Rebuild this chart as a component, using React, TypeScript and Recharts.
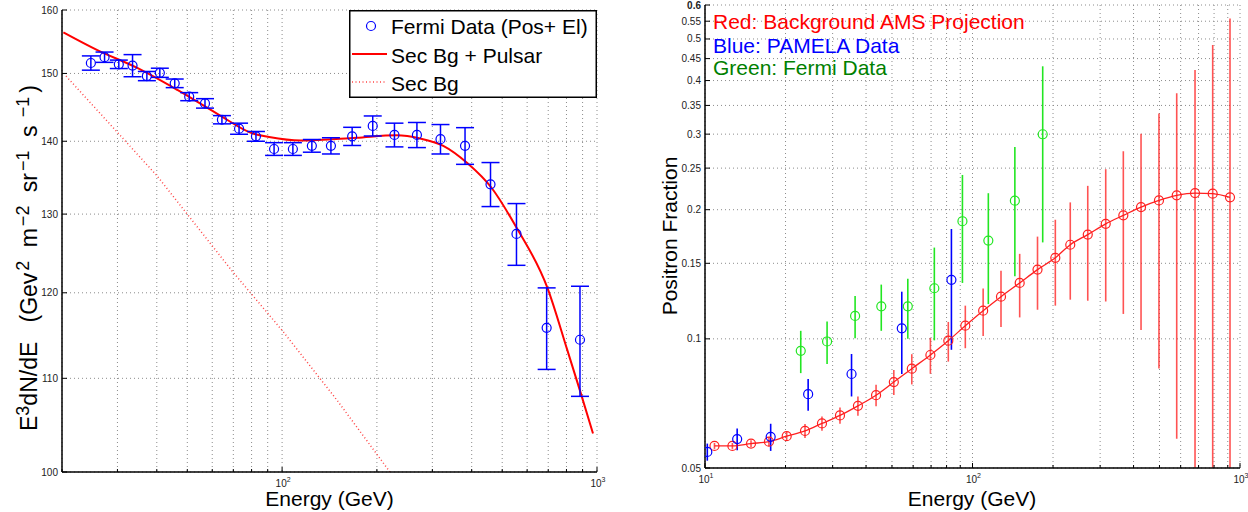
import React from "react";
import { ComposedChart, Line, Scatter, ErrorBar, XAxis, YAxis, CartesianGrid, Legend } from "recharts";

// Left panel: Fermi e+ + e- spectrum (E^3 dN/dE)
const fermiE = [24.7, 27.3, 30.3, 33.5, 37.2, 40.9, 45.6, 50.7, 56.9, 64.4, 73, 82.6, 94.3, 108.2, 124.3, 142.9, 166.9, 194, 227.4, 268, 318.4, 381, 459, 555, 692, 883];
const fermiV = [151.6, 152.5, 151.4, 151.2, 149.6, 150.1, 148.5, 146.5, 145.5, 143.1, 141.8, 140.7, 138.9, 138.9, 139.35, 139.35, 140.7, 142.2, 140.9, 140.9, 140.3, 139.35, 134.0, 127.4, 115.8, 114.4];
const fermiErr = [1.1, 0.8, 0.65, 1.7, 0.7, 0.7, 0.65, 0.6, 0.7, 0.6, 0.8, 0.7, 0.9, 0.9, 0.9, 1.15, 1.3, 1.45, 1.7, 1.8, 2.1, 2.6, 3.0, 4.0, 4.8, 6.4];

const pulsarE = [20.2, 25.9, 34.8, 46.5, 62.1, 80.8, 90.9, 114.6, 172, 230.7, 274.3, 325, 388, 463, 552, 696, 805, 889, 971];
const pulsarV = [156.4, 153.6, 150.8, 147.5, 144.0, 141.1, 140.6, 140.1, 140.5, 140.85, 140.4, 139.35, 136.9, 133.5, 128.4, 120.6, 113.2, 108.3, 104.0];

const secE = [20.6, 40, 70, 100, 150, 220];
const secV = [149.6, 135.2, 122.5, 115.5, 107.5, 100];

const leftXTicks = [20, 30, 40, 50, 60, 70, 80, 90, 100, 200, 300, 400, 500, 600, 700, 800, 900, 1000];
const leftYTicks = [100, 110, 120, 130, 140, 150, 160];

// Right panel: positron fraction
const amsE = [10.85, 12.66, 14.86, 17.34, 20.2, 23.65, 27.37, 31.96, 37.3, 43.6, 50.8, 59.3, 69.6, 81.2, 94, 109.6, 127.8, 150.1, 175, 204, 232, 269.7, 314.8, 366.3, 426.6, 497.8, 580, 679, 790.6, 917.6];
const amsV = [0.0563, 0.0563, 0.057, 0.0576, 0.0593, 0.061, 0.0635, 0.0663, 0.0698, 0.0739, 0.0793, 0.0852, 0.0917, 0.099, 0.1073, 0.1163, 0.1254, 0.135, 0.145, 0.1545, 0.1657, 0.175, 0.1854, 0.194, 0.2028, 0.2102, 0.216, 0.2187, 0.218, 0.2137];
const amsErr = [0.0009, 0.0009, 0.001, 0.0014, 0.0015, 0.0023, 0.0024, 0.0029, 0.0036, 0.0043, 0.0053, 0.0069, 0.0088, 0.0105, 0.0122, 0.0148, 0.0188, 0.0228, 0.0281, 0.035, 0.0423, 0.0523, 0.0632, 0.0797, 0.098, 0.1249, 0.1575, 0.2045, 0.266, 0.344];

const pamelaE = [10.2, 13.19, 17.6, 24.3, 35.3, 54.4, 83.4];
const pamelaV = [0.0545, 0.0584, 0.0591, 0.0743, 0.0828, 0.1058, 0.1373];
const pamelaErr = [0.0025, 0.0034, 0.0043, 0.0063, 0.0094, 0.023, 0.043];

const fermiPfE = [22.8, 28.6, 36.4, 45.6, 57.3, 72.0, 91.7, 114.6, 144.0, 183];
const fermiPfV = [0.0938, 0.0986, 0.1131, 0.1191, 0.1191, 0.1312, 0.188, 0.1695, 0.2099, 0.2998];
const fermiPfErr = [0.0106, 0.0112, 0.0128, 0.0147, 0.019, 0.032, 0.053, 0.049, 0.07, 0.132];

const rightXTicks = [10, 20, 30, 40, 50, 60, 70, 80, 90, 100, 200, 300, 400, 500, 600, 700, 800, 900, 1000];
const rightYTicks = [0.05, 0.1, 0.15, 0.2, 0.25, 0.3, 0.35, 0.4, 0.45, 0.5, 0.55, 0.6];

const FONT = '"Liberation Sans", Arial, Helvetica, sans-serif';
const POW: Record<number, string> = { 10: "1", 100: "2", 1000: "3" };
const Y_MIN_R = 0.0501;

const fermiData = fermiE.map((e, i) => ({ e, v: fermiV[i], err: fermiErr[i] }));
const pulsarData = pulsarE.map((e, i) => ({ e, v: pulsarV[i] }));
const secData = secE.map((e, i) => ({ e, v: secV[i] }));
const amsData = amsE.map((e, i) => ({ e, v: amsV[i], err: [Math.min(amsErr[i], amsV[i] - Y_MIN_R), amsErr[i]] }));
const pamelaData = pamelaE.map((e, i) => ({ e, v: pamelaV[i], err: pamelaErr[i] }));
const fermiPfData = fermiPfE.map((e, i) => ({ e, v: fermiPfV[i], err: fermiPfErr[i] }));

const frame = { stroke: "#000", strokeWidth: 1.5 };

function BottomTick(props: any) {
  const { x, y, payload } = props;
  const exp = POW[payload.value];
  return (
    <g>
      <line x1={x} x2={x} y1={y} y2={y - (exp ? 5 : 3)} stroke="#000" />
      {exp && (
        <text x={x + 1} y={y + 15} textAnchor="middle" fontSize={10} fill="#222" fontFamily={FONT}>
          10<tspan dy={-5} fontSize={7}>{exp}</tspan>
        </text>
      )}
    </g>
  );
}

function TopTick(props: any) {
  const { x, y, payload } = props;
  const exp = POW[payload.value];
  return <line x1={x} x2={x} y1={y} y2={y + (exp ? 5 : 3)} stroke="#000" />;
}

function LeftTick(props: any) {
  const { x, y, payload } = props;
  return (
    <g>
      <line x1={x} x2={x + 5} y1={y} y2={y} stroke="#000" />
      <text x={x - 4} y={y + 3.5} textAnchor="end" fontSize={10} fill="#222" fontFamily={FONT}
        fontWeight={payload.value === 0.6 ? "bold" : "normal"}>
        {String(payload.value)}
      </text>
    </g>
  );
}

function RightTick(props: any) {
  const { x, y } = props;
  return <line x1={x} x2={x - 5} y1={y} y2={y} stroke="#000" />;
}

const ringShape = (color: string) => (p: any) => (
  <circle cx={p.cx} cy={p.cy} r={4.5} fill="none" stroke={color} strokeWidth={1.2} />
);

function XTitle(props: { cx: number }) {
  return (
    <text x={props.cx} y={506} textAnchor="middle" fontSize={21} fontFamily={FONT} fill="#000">
      Energy (GeV)
    </text>
  );
}

function LeftYTitle() {
  const up = { dy: -8, fontSize: 18 };
  return (
    <text transform="translate(37,258) rotate(-90)" textAnchor="middle" fontSize={23} fontFamily={FONT} fill="#000" style={{ whiteSpace: "pre" }}>
      E<tspan {...up}>3</tspan>
      <tspan dy={8}>dN/dE   (Gev</tspan>
      <tspan {...up} dx={2}>2</tspan>
      <tspan dy={8} dx={7}> m</tspan>
      <tspan {...up} dx={2}>−2</tspan>
      <tspan dy={8} dx={7}> sr</tspan>
      <tspan {...up} dx={2}>−1</tspan>
      <tspan dy={8} dx={7}> s </tspan>
      <tspan {...up} dx={2}>−1</tspan>
      <tspan dy={8} dx={4}>)</tspan>
    </text>
  );
}

function RightYTitle() {
  return (
    <text transform="translate(53,236) rotate(-90)" textAnchor="middle" fontSize={21} fontFamily={FONT} fill="#000">
      Positron Fraction
    </text>
  );
}

function LeftLegendBox() {
  return (
    <svg width={248} height={88} style={{ display: "block" }}>
      <rect x={0.75} y={0.75} width={246.5} height={86.5} fill="#fff" stroke="#000" strokeWidth={1.5} />
      <circle cx={22} cy={16} r={4.5} fill="none" stroke="#0000ff" strokeWidth={1.2} />
      <text x={42} y={23.5} fontSize={21} fontFamily={FONT}>Fermi Data (Pos+ El)</text>
      <line x1={3} x2={38} y1={44} y2={44} stroke="#ff0000" strokeWidth={2} />
      <text x={42} y={53} fontSize={21} fontFamily={FONT}>Sec Bg + Pulsar</text>
      <line x1={3} x2={38} y1={72} y2={72} stroke="#ff4444" strokeWidth={1.5} strokeDasharray="1 2.5" />
      <text x={42} y={81} fontSize={21} fontFamily={FONT}>Sec Bg</text>
    </svg>
  );
}

function RightLegendText() {
  return (
    <svg width={340} height={80} style={{ display: "block" }}>
      <text x={8} y={24} fontSize={21} fontFamily={FONT} fill="#ff0000">Red: Background AMS Projection</text>
      <text x={8} y={47.5} fontSize={21} fontFamily={FONT} fill="#0000ff">Blue: PAMELA Data</text>
      <text x={8} y={70} fontSize={21} fontFamily={FONT} fill="#008000">Green: Fermi Data</text>
    </svg>
  );
}

function FermiSpectrum() {
  return (
    <ComposedChart width={624} height={512} margin={{ top: 10, right: 27, bottom: 0, left: 0 }}>
      <CartesianGrid stroke="#8c8c8c" strokeDasharray="1 3" />
      <XAxis type="number" dataKey="e" scale="log" domain={[20, 1000]} allowDataOverflow ticks={leftXTicks}
        interval={0} tickSize={0} tickMargin={0} height={40} axisLine={frame} tick={(p: any) => <BottomTick {...p} />}
        label={<XTitle cx={329.5} />} />
      <XAxis xAxisId="top" orientation="top" type="number" dataKey="e" scale="log" domain={[20, 1000]} allowDataOverflow
        ticks={leftXTicks} interval={0} tickSize={0} tickMargin={0} height={0} axisLine={frame} tick={(p: any) => <TopTick {...p} />} />
      <YAxis type="number" dataKey="v" scale="log" domain={[100, 160]} allowDataOverflow ticks={leftYTicks}
        interval={0} tickSize={0} tickMargin={0} width={62} axisLine={frame} tick={(p: any) => <LeftTick {...p} />}
        label={<LeftYTitle />} />
      <YAxis yAxisId="right" orientation="right" type="number" dataKey="v" scale="log" domain={[100, 160]} allowDataOverflow
        ticks={leftYTicks} interval={0} tickSize={0} tickMargin={0} width={0} axisLine={frame} tick={(p: any) => <RightTick {...p} />} />
      <Line data={secData} dataKey="v" type="linear" stroke="#ff4444" strokeWidth={1.5} strokeDasharray="1 2.5"
        dot={false} activeDot={false} isAnimationActive={false} legendType="none" />
      <Line data={pulsarData} dataKey="v" type="monotone" stroke="#ff0000" strokeWidth={2}
        dot={false} activeDot={false} isAnimationActive={false} legendType="none" />
      <Scatter data={fermiData} shape={ringShape("#0000ff")} isAnimationActive={false} legendType="none">
        <ErrorBar dataKey="err" direction="y" width={9} stroke="#0000ff" strokeWidth={1.5} />
      </Scatter>
      <Legend content={() => <LeftLegendBox />} layout="horizontal" verticalAlign="middle" align="center"
        wrapperStyle={{ top: 10, left: 349, width: 248, height: 88 }} />
    </ComposedChart>
  );
}

function PositronFraction() {
  return (
    <ComposedChart width={624} height={512} margin={{ top: 5, right: 8, bottom: 0, left: 0 }}>
      <CartesianGrid stroke="#8c8c8c" strokeDasharray="1 3" />
      <XAxis type="number" dataKey="e" scale="log" domain={[10, 1000]} allowDataOverflow ticks={rightXTicks}
        interval={0} tickSize={0} tickMargin={0} height={44} axisLine={frame} tick={(p: any) => <BottomTick {...p} />}
        label={<XTitle cx={348} />} />
      <XAxis xAxisId="top" orientation="top" type="number" dataKey="e" scale="log" domain={[10, 1000]} allowDataOverflow
        ticks={rightXTicks} interval={0} tickSize={0} tickMargin={0} height={0} axisLine={frame} tick={(p: any) => <TopTick {...p} />} />
      <YAxis type="number" dataKey="v" scale="log" domain={[0.05, 0.6]} allowDataOverflow ticks={rightYTicks}
        interval={0} tickSize={0} tickMargin={0} width={81} axisLine={frame} tick={(p: any) => <LeftTick {...p} />}
        label={<RightYTitle />} />
      <YAxis yAxisId="right" orientation="right" type="number" dataKey="v" scale="log" domain={[0.05, 0.6]} allowDataOverflow
        ticks={rightYTicks} interval={0} tickSize={0} tickMargin={0} width={0} axisLine={frame} tick={(p: any) => <RightTick {...p} />} />
      <Line data={amsData} dataKey="v" type="monotone" stroke="#ff2020" strokeWidth={1.3}
        dot={false} activeDot={false} isAnimationActive={false} legendType="none" />
      <Scatter data={amsData} shape={ringShape("#ff2020")} isAnimationActive={false} legendType="none">
        <ErrorBar dataKey="err" direction="y" width={0} stroke="#ff1a1a" strokeOpacity={0.75} strokeWidth={1.6} />
      </Scatter>
      <Scatter data={fermiPfData} shape={ringShape("#22e622")} isAnimationActive={false} legendType="none">
        <ErrorBar dataKey="err" direction="y" width={0} stroke="#22e622" strokeWidth={1.6} />
      </Scatter>
      <Scatter data={pamelaData} shape={ringShape("#0000ff")} isAnimationActive={false} legendType="none">
        <ErrorBar dataKey="err" direction="y" width={0} stroke="#0000ff" strokeWidth={1.6} />
      </Scatter>
      <Legend content={() => <RightLegendText />} layout="horizontal" verticalAlign="middle" align="center"
        wrapperStyle={{ top: 5, left: 81, width: 340, height: 80 }} />
    </ComposedChart>
  );
}

export default function App() {
  return (
    <div style={{ position: "absolute", left: 0, top: 0, width: 1248, height: 512, background: "#fff", fontFamily: FONT }}>
      <div style={{ position: "absolute", left: 0, top: 0 }}>
        <FermiSpectrum />
      </div>
      <div style={{ position: "absolute", left: 624, top: 0 }}>
        <PositronFraction />
      </div>
    </div>
  );
}
